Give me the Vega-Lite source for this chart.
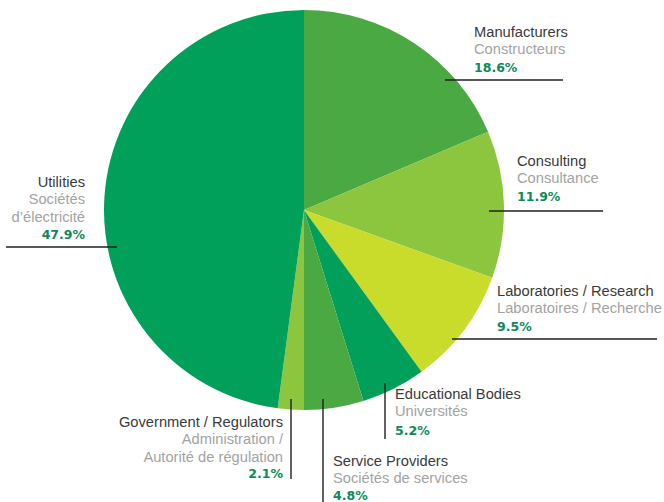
{
  "$schema": "https://vega.github.io/schema/vega-lite/v6.json",
  "width": 608,
  "height": 420,
  "autosize": {"type": "none"},
  "padding": {"left": 0, "top": 0, "right": 56, "bottom": 82},
  "background": "white",
  "config": {"view": {"stroke": null}, "font": "Liberation Sans"},
  "data": {
    "values": [
      {"rank": 1, "sector": "Manufacturers", "fr": "Constructeurs", "share": 0.186, "tx": 0.85, "ty": 0.865, "py": 0.69, "x1": 0.705, "x2": 1.295, "y1": 0.65, "y2": 0.65},
      {"rank": 2, "sector": "Consulting", "fr": "Consultance", "share": 0.119, "tx": 1.065, "ty": 0.22, "py": 0.045, "x1": 0.925, "x2": 1.495, "y1": -0.005, "y2": -0.005},
      {"rank": 3, "sector": "Laboratories / Research", "fr": "Laboratoires / Recherche", "share": 0.095, "tx": 0.965, "ty": -0.43, "py": -0.605, "x1": 0.74, "x2": 1.765, "y1": -0.645, "y2": -0.645},
      {"rank": 4, "sector": "Educational Bodies", "fr": "Universités", "share": 0.052, "tx": 0.455, "ty": -0.945, "py": -1.125, "x1": 0.405, "x2": 0.405, "y1": -0.865, "y2": -1.145},
      {"rank": 5, "sector": "Service Providers", "fr": "Sociétés de services", "share": 0.048, "tx": 0.145, "ty": -1.28, "py": -1.45, "x1": 0.095, "x2": 0.095, "y1": -0.945, "y2": -1.46},
      {"rank": 6, "sector": "Government / Regulators", "fr": "Administration /\nAutorité de régulation", "share": 0.021, "tx": -0.105, "ty": -1.085, "py": -1.34, "x1": -0.065, "x2": -0.065, "y1": -0.945, "y2": -1.345},
      {"rank": 7, "sector": "Utilities", "fr": "Sociétés\nd’électricité", "share": 0.479, "tx": -1.095, "ty": 0.115, "py": -0.145, "x1": -1.49, "x2": -0.935, "y1": -0.185, "y2": -0.185}
    ]
  },
  "layer": [
    {
      "mark": {"type": "arc", "outerRadius": 200},
      "encoding": {
        "theta": {"field": "share", "type": "quantitative", "stack": true},
        "order": {"field": "rank", "type": "quantitative"},
        "color": {
          "field": "sector",
          "type": "nominal",
          "legend": null,
          "scale": {
            "domain": ["Manufacturers", "Consulting", "Laboratories / Research", "Educational Bodies", "Service Providers", "Government / Regulators", "Utilities"],
            "range": ["#4aa942", "#8cc63f", "#c9dc2b", "#00a05a", "#4aa942", "#8cc63f", "#00a05a"]
          }
        }
      }
    },
    {
      "mark": {"type": "rule", "color": "#231f20", "strokeWidth": 1.4},
      "encoding": {
        "x": {"field": "x1", "type": "quantitative", "axis": null, "scale": {"domain": [-1.52, 1.52], "nice": false, "zero": false}},
        "x2": {"field": "x2"},
        "y": {"field": "y1", "type": "quantitative", "axis": null, "scale": {"domain": [-1.05, 1.05], "nice": false, "zero": false}},
        "y2": {"field": "y2"}
      }
    },
    {
      "mark": {"type": "text", "align": {"expr": "datum.tx < 0 ? 'right' : 'left'"}, "baseline": "alphabetic", "fontSize": 14.7, "color": "#3a3a3a"},
      "encoding": {
        "x": {"field": "tx", "type": "quantitative", "axis": null, "scale": {"domain": [-1.52, 1.52], "nice": false, "zero": false}},
        "y": {"field": "ty", "type": "quantitative", "axis": null, "scale": {"domain": [-1.05, 1.05], "nice": false, "zero": false}},
        "text": {"field": "sector", "type": "nominal"}
      }
    },
    {
      "mark": {"type": "text", "align": {"expr": "datum.tx < 0 ? 'right' : 'left'"}, "baseline": "alphabetic", "fontSize": 14.7, "color": "#a3a3a3", "dy": 17.4, "lineBreak": "\n", "lineHeight": 17.4},
      "encoding": {
        "x": {"field": "tx", "type": "quantitative", "axis": null, "scale": {"domain": [-1.52, 1.52], "nice": false, "zero": false}},
        "y": {"field": "ty", "type": "quantitative", "axis": null, "scale": {"domain": [-1.05, 1.05], "nice": false, "zero": false}},
        "text": {"field": "fr", "type": "nominal"}
      }
    },
    {
      "mark": {"type": "text", "align": {"expr": "datum.tx < 0 ? 'right' : 'left'"}, "baseline": "alphabetic", "font": "DejaVu Sans", "fontSize": 12.5, "fontWeight": "bold", "color": "#0c8a5a"},
      "encoding": {
        "x": {"field": "tx", "type": "quantitative", "axis": null, "scale": {"domain": [-1.52, 1.52], "nice": false, "zero": false}},
        "y": {"field": "py", "type": "quantitative", "axis": null, "scale": {"domain": [-1.05, 1.05], "nice": false, "zero": false}},
        "text": {"field": "share", "type": "quantitative", "format": ".1%"}
      }
    }
  ]
}
